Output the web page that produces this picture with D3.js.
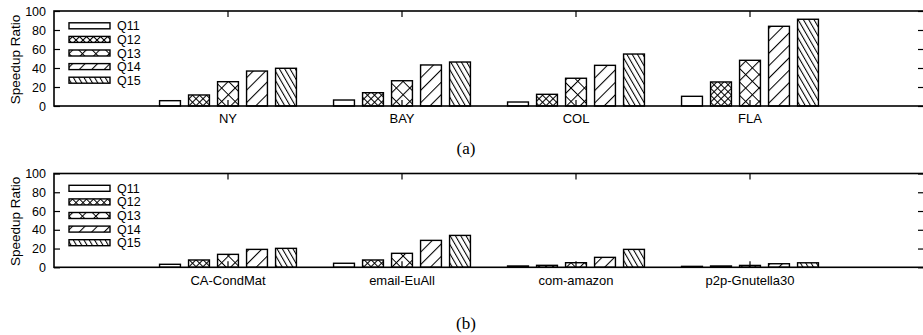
<!DOCTYPE html>
<html>
<head>
<meta charset="utf-8">
<script src="https://cdn.jsdelivr.net/npm/d3@7"></script>
<style>
  body { margin: 0; background: #fff; }
  svg { display: block; }
  text { font-family: "Liberation Sans", Arial, sans-serif; fill: #000; }
  .caption { font-family: "Liberation Serif", "Times New Roman", serif; }
</style>
</head>
<body>
<svg id="chart" width="923" height="335"></svg>
<script>
var series = ['Q11', 'Q12', 'Q13', 'Q14', 'Q15'];

// panel (a)
var roadCats = ['NY', 'BAY', 'COL', 'FLA'];
var roadQ11 = [5.6, 6.3, 4.2, 10.2];
var roadQ12 = [11.6, 14.0, 12.3, 25.3];
var roadQ13 = [25.6, 26.6, 29.2, 48.1];
var roadQ14 = [36.8, 43.2, 42.8, 83.9];
var roadQ15 = [39.7, 46.3, 54.7, 91.3];

// panel (b)
var socialCats = ['CA-CondMat', 'email-EuAll', 'com-amazon', 'p2p-Gnutella30'];
var socialQ11 = [3.2, 4.3, 1.4, 1.0];
var socialQ12 = [7.8, 7.8, 2.1, 1.4];
var socialQ13 = [13.8, 14.9, 4.9, 2.0];
var socialQ14 = [19.1, 28.7, 10.6, 3.8];
var socialQ15 = [20.2, 34.0, 19.1, 4.8];

var yTicks = [0, 20, 40, 60, 80, 100];

var svgWidth = 923;
var plotLeft = 54;
var plotRight = 924;
var tickLen = 6;

var svg = d3.select('#chart');
var defs = svg.append('defs');

// hatch patterns, one per series (Q11 is plain white)
function linePattern(id, spacing, angle) {
  var p = defs.append('pattern')
    .attr('id', id)
    .attr('patternUnits', 'userSpaceOnUse')
    .attr('width', spacing)
    .attr('height', 10)
    .attr('patternTransform', 'rotate(' + angle + ')');
  p.append('rect').attr('width', spacing).attr('height', 10).attr('fill', '#fff');
  p.append('line').attr('x1', 0.5).attr('y1', 0).attr('x2', 0.5).attr('y2', 10)
    .attr('stroke', '#000').attr('stroke-width', 1.1);
}
function crossPattern(id, size) {
  var p = defs.append('pattern')
    .attr('id', id)
    .attr('patternUnits', 'userSpaceOnUse')
    .attr('width', size)
    .attr('height', size)
    .attr('patternTransform', 'rotate(45)');
  p.append('rect').attr('width', size).attr('height', size).attr('fill', '#fff');
  p.append('path').attr('d', 'M0.5,0V' + size + 'M0,0.5H' + size)
    .attr('stroke', '#000').attr('stroke-width', 1.1).attr('fill', 'none');
}
crossPattern('p12', 4.95);
crossPattern('p13', 9.5);
linePattern('p14', 8.8, 45);
linePattern('p15', 4.6, -30);

var fills = { Q11: '#fff', Q12: 'url(#p12)', Q13: 'url(#p13)', Q14: 'url(#p14)', Q15: 'url(#p15)' };

function drawPanel(top, bottom, cats, values, caption, captionY) {
  var g = svg.append('g');

  var x = d3.scaleBand()
    .domain(cats)
    .range([plotLeft, plotRight])
    .paddingInner(0)
    .paddingOuter(0.5);

  var xSeries = d3.scaleBand()
    .domain(series)
    .range([0, x.bandwidth()])
    .paddingInner(0.28)
    .paddingOuter(0.64);

  var y = d3.scaleLinear()
    .domain([0, 100])
    .range([bottom, top]);

  var rows = [];
  cats.forEach(function(c, i) {
    series.forEach(function(s, j) {
      rows.push({ cat: c, series: s, value: values[j][i] });
    });
  });

  // bars
  g.selectAll('rect.bar')
    .data(rows)
    .enter()
    .append('rect')
    .attr('class', 'bar')
    .attr('x', function(d) { return x(d.cat) + xSeries(d.series); })
    .attr('y', function(d) { return y(d.value); })
    .attr('width', xSeries.bandwidth())
    .attr('height', function(d) { return y(0) - y(d.value); })
    .attr('fill', function(d) { return fills[d.series]; })
    .attr('stroke', '#000')
    .attr('stroke-width', 1.4);

  // bottom axis, ticks pointing inward
  var xAxis = g.append('g')
    .attr('transform', 'translate(0,' + bottom + ')')
    .call(d3.axisBottom(x).tickSizeInner(-tickLen).tickSizeOuter(0).tickPadding(8));
  xAxis.select('.domain').remove();
  xAxis.selectAll('text').style('font-size', '13px');

  // top mirror ticks
  var xTop = g.append('g')
    .attr('transform', 'translate(0,' + top + ')')
    .call(d3.axisTop(x).tickSizeInner(-tickLen).tickSizeOuter(0).tickFormat(''));
  xTop.select('.domain').remove();

  // left axis
  var yAxis = g.append('g')
    .attr('transform', 'translate(' + plotLeft + ',0)')
    .call(d3.axisLeft(y).tickValues(yTicks).tickSizeInner(-tickLen).tickSizeOuter(0).tickPadding(8));
  yAxis.select('.domain').remove();
  yAxis.selectAll('text').style('font-size', '12.5px');

  // right mirror ticks
  var yRight = g.append('g')
    .attr('transform', 'translate(' + plotRight + ',0)')
    .call(d3.axisRight(y).tickValues(yTicks).tickSizeInner(-tickLen).tickSizeOuter(0).tickFormat(''));
  yRight.select('.domain').remove();

  g.selectAll('.tick line').attr('stroke', '#000').attr('stroke-width', 1.2);

  // border
  g.append('rect')
    .attr('x', plotLeft)
    .attr('y', top)
    .attr('width', plotRight - plotLeft)
    .attr('height', bottom - top)
    .attr('fill', 'none')
    .attr('stroke', '#000')
    .attr('stroke-width', 1.6);

  // y label
  g.append('text')
    .attr('transform', 'translate(19.5,' + ((top + bottom) / 2 + 1) + ') rotate(-90)')
    .style('text-anchor', 'middle')
    .style('font-size', '13.5px')
    .text('Speedup Ratio');

  // legend
  var legend = g.selectAll('g.legend')
    .data(series)
    .enter()
    .append('g')
    .attr('class', 'legend')
    .attr('transform', function(d, i) { return 'translate(69,' + (top + 14.8 + i * 13.6) + ')'; });

  legend.append('rect')
    .attr('x', 0)
    .attr('y', -3)
    .attr('width', 41)
    .attr('height', 6)
    .attr('fill', function(d) { return fills[d]; })
    .attr('stroke', '#000')
    .attr('stroke-width', 1.4);

  legend.append('text')
    .attr('x', 48)
    .attr('y', 0)
    .attr('dy', '0.36em')
    .style('font-size', '12.5px')
    .text(function(d) { return d; });

  // caption
  svg.append('text')
    .attr('class', 'caption')
    .attr('x', 466)
    .attr('y', captionY)
    .style('text-anchor', 'middle')
    .style('font-size', '17px')
    .text(caption);
}

drawPanel(11, 106, roadCats, [roadQ11, roadQ12, roadQ13, roadQ14, roadQ15], '(a)', 154);
drawPanel(173.5, 267.3, socialCats, [socialQ11, socialQ12, socialQ13, socialQ14, socialQ15], '(b)', 329);
</script>
</body>
</html>
